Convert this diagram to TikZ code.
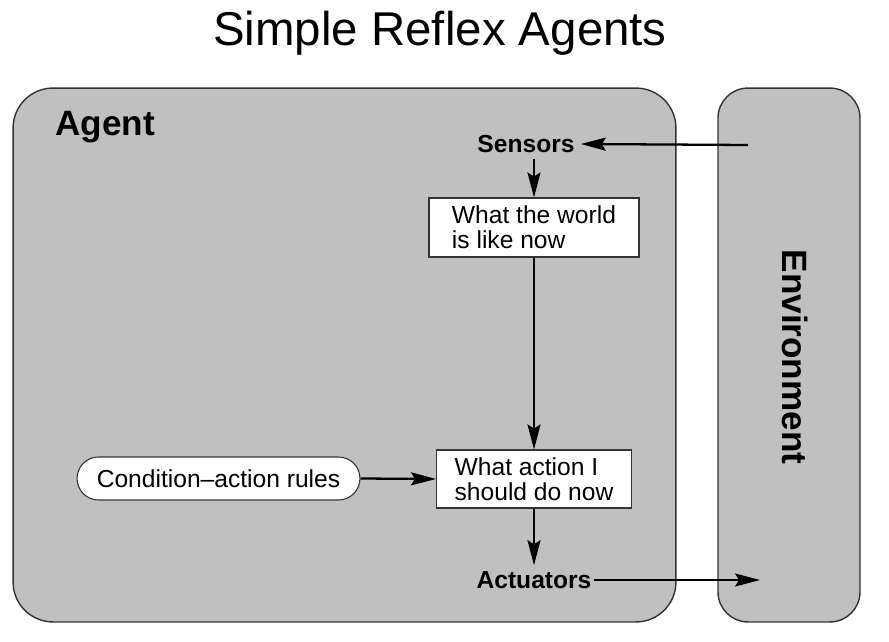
\documentclass[tikz,border=0pt]{standalone}
\usepackage{fontspec}
\setmainfont{Liberation Sans}
\usetikzlibrary{arrows.meta}
\definecolor{panelgray}{RGB}{192,192,192}
\begin{document}
\begin{tikzpicture}[x=0.02cm, y=-0.02cm, >={Stealth[length=5mm, width=2.6mm, inset=0.8mm]},
    panel/.style={draw=black!80, line width=0.8pt, fill=panelgray, inner sep=0pt},
    infobox/.style={draw=black!80, line width=0.6pt, fill=white, align=left, inner sep=0pt,
      font=\fontsize{14}{14}\selectfont},
    flow/.style={->, line width=1.3pt}]
  \useasboundingbox (0,0) rectangle (889,642);
  \node (title) at (440,33) {\fontsize{27}{30}\selectfont Simple Reflex Agents};
  % agent and environment panels
  \node[panel, rounded corners=0.8cm, minimum width=13.26cm, minimum height=10.68cm] (agent) at (344.5,355) {};
  \node[panel, rounded corners=0.6cm, minimum width=2.84cm, minimum height=10.68cm] (env) at (789,355) {};
  \node[anchor=west, inner sep=0pt, font=\fontsize{20}{20}\selectfont\bfseries] (agentlbl) at (55,127) {Agent};
  \node[rotate=-90, font=\fontsize{20}{20}\selectfont\bfseries] (envlbl) at (795,357) {Environment};
  % parts of the agent
  \node[font=\fontsize{14}{14}\selectfont\bfseries] (sensors) at (526,144) {Sensors};
  \node[infobox, minimum width=4.2cm, minimum height=1.18cm] (world) at (534,227.5) {What the world\\is like now};
  \node[infobox, minimum width=3.9cm, minimum height=1.16cm] (action) at (534,479) {What action I\\should do now};
  \node[draw=black!80, line width=0.6pt, fill=white, rounded corners=0.43cm, minimum width=5.66cm,
    minimum height=0.86cm, font=\fontsize{14}{14}\selectfont] (rules) at (218.5,478.5) {Condition--action rules};
  \node[font=\fontsize{14}{14}\selectfont\bfseries, inner xsep=1pt] (actuators) at (534,580) {Actuators};
  \coordinate (percept) at (748,145);
  \coordinate (effect) at (760,580);
  % connectors
  \draw[flow] (percept) -- (sensors.east);
  \draw[flow] (sensors.south -| world.north) -- (world.north);
  \draw[flow] (world.south) -- (action.north);
  \draw[flow] (rules.east) -- (action.west);
  \draw[flow] (action.south) -- (actuators.north);
  \draw[flow] (actuators.east) -- (effect);
\end{tikzpicture}
\end{document}
